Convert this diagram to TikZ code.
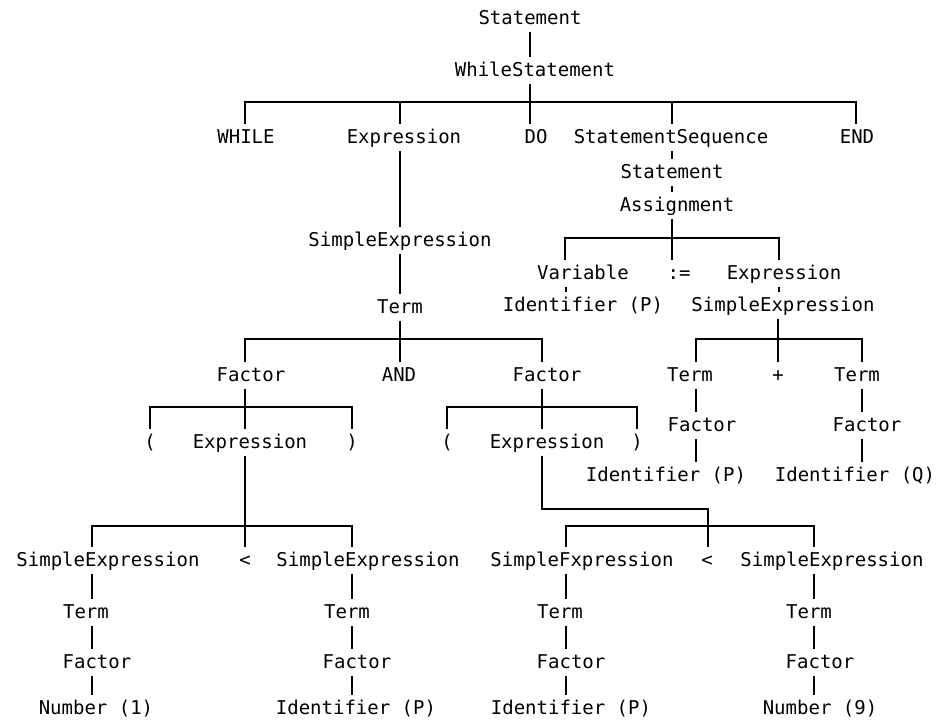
\documentclass[tikz,border=0pt]{standalone}
\usepackage{fontspec}
\newfontfamily\treefont{DejaVu Sans Mono}
\begin{document}
\begin{tikzpicture}[x=1pt,y=-1pt,
  lab/.style={inner sep=0pt, outer xsep=0pt, outer ysep=7pt, text height=13pt, text depth=0pt,
              font=\treefont\fontsize{19}{19}\selectfont},
  edge/.style={line width=1.6pt, black, line join=miter}]
\useasboundingbox[fill=white] (0,0) rectangle (938,724);

% top
\node[lab] (stmt)  at (530,18)  {Statement};
\node[lab] (wst)   at (535,70)  {WhileStatement};
\node[lab] (while) at (246,137) {WHILE};
\node[lab] (expr)  at (404,137) {Expression};
\node[lab] (do)    at (536,137) {DO};
\node[lab] (seq)   at (671,137) {StatementSequence};
\node[lab] (end)   at (857,137) {END};

% left expression
\node[lab] (sea)   at (400,240) {SimpleExpression};
\node[lab] (terma) at (400,307) {Term};
\node[lab] (fac1)  at (251,375) {Factor};
\node[lab] (and)   at (399,375) {AND};
\node[lab] (fac2)  at (547,375) {Factor};

\node[lab] (lp1)   at (150,442) {(};
\node[lab] (expr1) at (250,442) {Expression};
\node[lab] (rp1)   at (352,442) {)};
\node[lab] (lp2)   at (447,442) {(};
\node[lab] (expr2) at (547,442) {Expression};
\node[lab] (rp2)   at (637,442) {)};

\node[lab] (se1)   at (108,560) {SimpleExpression};
\node[lab] (lt1)   at (245,560) {<};
\node[lab] (se2)   at (368,560) {SimpleExpression};
\node[lab] (se3)   at (582,560) {SimpleFxpression};
\node[lab] (lt2)   at (707,560) {<};
\node[lab] (se4)   at (832,560) {SimpleExpression};

\node[lab] (term1) at (86,612)  {Term};
\node[lab] (term2) at (347,612) {Term};
\node[lab] (term3) at (560,612) {Term};
\node[lab] (term4) at (809,612) {Term};
\node[lab] (fac3)  at (97,662)  {Factor};
\node[lab] (fac4)  at (357,662) {Factor};
\node[lab] (fac5)  at (571,662) {Factor};
\node[lab] (fac6)  at (820,662) {Factor};
\node[lab] (num1)  at (96,708)  {Number (1)};
\node[lab] (id1)   at (356,708) {Identifier (P)};
\node[lab] (id2)   at (571,708) {Identifier (P)};
\node[lab] (num2)  at (820,708) {Number (9)};

% assignment
\node[lab] (st2)    at (672,172) {Statement};
\node[lab] (asg)    at (677,205) {Assignment};
\node[lab] (var)    at (583,273) {Variable};
\node[lab] (assign) at (679,273) {:=};
\node[lab] (expr3)  at (784,273) {Expression};
\node[lab] (id3)    at (583,305) {Identifier (P)};
\node[lab] (se5)    at (783,305) {SimpleExpression};
\node[lab] (term5)  at (690,375) {Term};
\node[lab] (plus)   at (778,375) {+};
\node[lab] (term6)  at (857,375) {Term};
\node[lab] (fac7)   at (702,425) {Factor};
\node[lab] (fac8)   at (867,425) {Factor};
\node[lab] (id4)    at (666,475) {Identifier (P)};
\node[lab] (id5)    at (855,475) {Identifier (Q)};

% connectors: top
\draw[edge] (stmt.south -| 530,0) -- (wst.north -| 530,0);
\draw[edge] (wst.south -| 530,0) -- (do.north -| 530,0);
\draw[edge] (while.north -| 245,0) -- (245,102) -- (856,102) -- (end.north -| 856,0);
\draw[edge] (expr.north -| 400,0) -- (400,102);
\draw[edge] (seq.north -| 672,0) -- (672,102);

% left expression chain
\draw[edge] (expr.south -| 400,0) -- (sea.north -| 400,0);
\draw[edge] (sea.south -| 400,0) -- (terma.north -| 400,0);
\draw[edge] (terma.south -| 400,0) -- (and.north -| 400,0);
\draw[edge] (fac1.north -| 245,0) -- (245,339) -- (542,339) -- (fac2.north -| 542,0);

\draw[edge] (fac1.south -| 245,0) -- (expr1.north -| 245,0);
\draw[edge] (lp1.north -| 150,0) -- (150,407) -- (352,407) -- (rp1.north -| 352,0);
\draw[edge] (expr1.south -| 245,0) -- (lt1.north -| 245,0);
\draw[edge] (se1.north -| 92,0) -- (92,526) -- (352,526) -- (se2.north -| 352,0);

\draw[edge] (fac2.south -| 542,0) -- (expr2.north -| 542,0);
\draw[edge] (lp2.north -| 447,0) -- (447,407) -- (637,407) -- (rp2.north -| 637,0);
\draw[edge] (expr2.south -| 542,0) -- (542,509) -- (708,509) -- (lt2.north -| 708,0);
\draw[edge] (se3.north -| 566,0) -- (566,526) -- (814,526) -- (se4.north -| 814,0);

\draw[edge] (se1.south -| 92,0) -- (term1.north -| 92,0);
\draw[edge] (term1.south -| 92,0) -- (fac3.north -| 92,0);
\draw[edge] (fac3.south -| 92,0) -- (num1.north -| 92,0);
\draw[edge] (se2.south -| 352,0) -- (term2.north -| 352,0);
\draw[edge] (term2.south -| 352,0) -- (fac4.north -| 352,0);
\draw[edge] (fac4.south -| 352,0) -- (id1.north -| 352,0);
\draw[edge] (se3.south -| 566,0) -- (term3.north -| 566,0);
\draw[edge] (term3.south -| 566,0) -- (fac5.north -| 566,0);
\draw[edge] (fac5.south -| 566,0) -- (id2.north -| 566,0);
\draw[edge] (se4.south -| 814,0) -- (term4.north -| 814,0);
\draw[edge] (term4.south -| 814,0) -- (fac6.north -| 814,0);
\draw[edge] (fac6.south -| 814,0) -- (num2.north -| 814,0);

% assignment
\draw[edge] (seq.south -| 672,0) -- (st2.north -| 672,0);
\draw[edge] (st2.south -| 672,0) -- (asg.north -| 672,0);
\draw[edge] (asg.south -| 672,0) -- (assign.north -| 672,0);
\draw[edge] (var.north -| 565,0) -- (565,238) -- (779,238) -- (expr3.north -| 779,0);
\draw[edge] (var.south -| 566,0) -- (id3.north -| 566,0);
\draw[edge] (expr3.south -| 779,0) -- (se5.north -| 779,0);
\draw[edge] (se5.south -| 778,0) -- (plus.north -| 778,0);
\draw[edge] (term5.north -| 696,0) -- (696,339) -- (862,339) -- (term6.north -| 862,0);
\draw[edge] (term5.south -| 696,0) -- (fac7.north -| 696,0);
\draw[edge] (fac7.south -| 696,0) -- (id4.north -| 696,0);
\draw[edge] (term6.south -| 862,0) -- (fac8.north -| 862,0);
\draw[edge] (fac8.south -| 862,0) -- (id5.north -| 862,0);
\end{tikzpicture}
\end{document}
